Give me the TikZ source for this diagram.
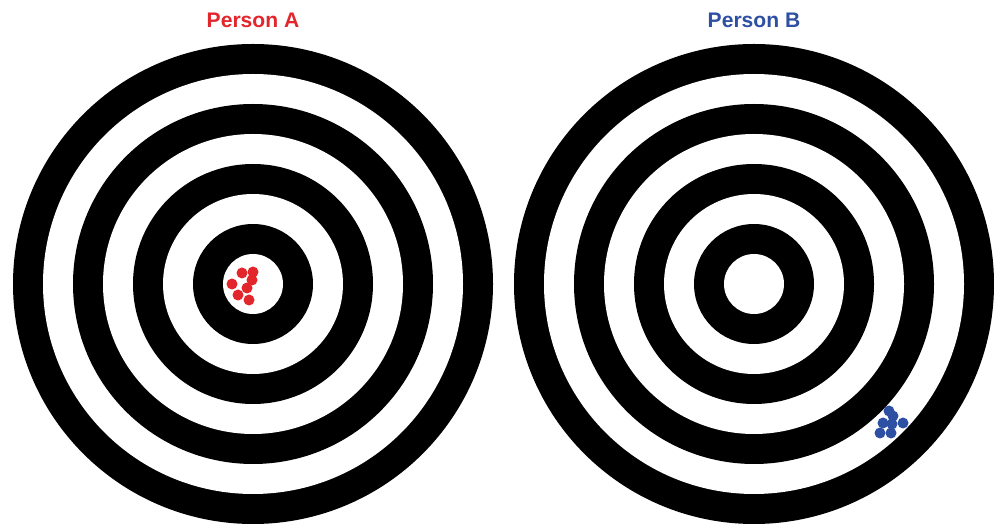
\documentclass[tikz,border=0pt]{standalone}
\usepackage{fontspec}
\setmainfont{Liberation Sans}
\usepackage{tikz}

\definecolor{hitred}{HTML}{E3262B}
\definecolor{hitblue}{HTML}{2E50A2}

\begin{document}
\begin{tikzpicture}[
    x=0.02cm, y=0.02cm,
    title/.style={font=\fontsize{12}{14}\selectfont\bfseries,anchor=base},
    shotA/.style={fill=hitred},
    shotB/.style={fill=hitblue}
]
\useasboundingbox[fill=white] (0,0) rectangle (994,524);

\coordinate (targetA) at (253,240);
\coordinate (targetB) at (754,240);

% the two targets
\foreach \c in {targetA,targetB} {
    \foreach \r in {240,180,120,60} {
        \fill[black] (\c) circle (\r);
        \fill[white] (\c) circle ({\r-30});
    }
}

\node[title,text=hitred] (titleA) at (253,496) {Person A};
\node[title,text=hitblue] (titleB) at (754,496) {Person B};

% shots
\foreach \x/\y in {242/251,253/252,252/244,232/240,247/236,238/229,249/224}
    \fill[shotA] (\x,\y) circle (5.5);
\foreach \x/\y in {889/113,893/108,883/101,892/100,903/101,880/91,891/91}
    \fill[shotB] (\x,\y) circle (5.5);

\end{tikzpicture}
\end{document}
